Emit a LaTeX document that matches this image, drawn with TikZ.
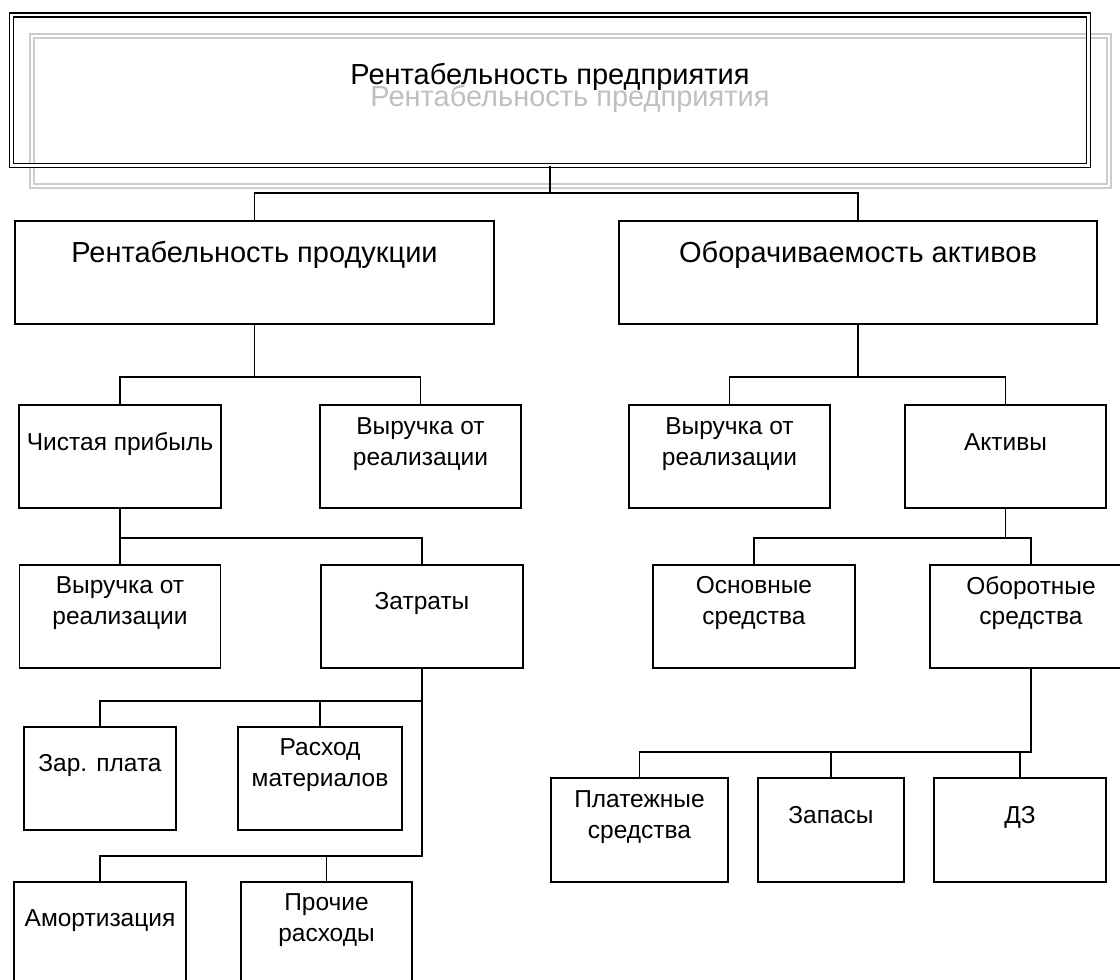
\documentclass[tikz,border=0pt]{standalone}
\usepackage{fontspec}
\setmainfont{Liberation Sans}

\begin{document}
\begin{tikzpicture}[x=1pt,y=-1pt,
    box/.style={draw=black,line width=1.5pt,inner sep=0pt,minimum height=103pt},
    big/.style={font=\fontsize{29}{35}\selectfont,text height=21pt,text depth=6pt},
    small/.style={font=\fontsize{24.5}{30.5}\selectfont,align=center},
    one/.style={small,text height=17.6pt,text depth=5.2pt},
    link/.style={draw=black,line width=1.5pt}]
                \clip (0,0) rectangle (1120,980);

                \node (sh) at (570.5,111) [draw=black!20,double,double distance=2.6pt,line width=1.4pt,inner sep=0pt,minimum width=1077pt,minimum height=150pt] {};
                \node (sht) at (570,99) [big,text=black!25] {Рентабельность предприятия};
                \node (top) at (550,90.25) [draw=black,double,double distance=2.6pt,line width=1.4pt,inner sep=0pt,minimum width=1077pt,minimum height=150.5pt] {};
                \node (topt) at (550,77) [big] {Рентабельность предприятия};

                \node (rp) at (254.5,272.5) [box,minimum width=479pt] {};
                \node (rpt) at (254.5,255) [big] {Рентабельность продукции};
                \node (oa) at (858,272.5) [box,minimum width=478pt] {};
                \node (oat) at (858,255) [big] {Оборачиваемость активов};

                \node (cp) at (120,456.5) [box,minimum width=202pt] {};
                \node (cpt) at (120,444) [one] {Чистая прибыль};
                \node (vr1) at (420.5,456.5) [box,minimum width=201pt] {};
                \node (vr1t) at (420.5,444) [small] {Выручка от\\реализации};
                \node (vr2) at (729.5,456.5) [box,minimum width=201pt] {};
                \node (vr2t) at (729.5,444) [small] {Выручка от\\реализации};
                \node (akt) at (1005.5,456.5) [box,minimum width=201pt] {};
                \node (aktt) at (1005.5,444) [one] {Активы};

                \node (vr3) at (120,616.5) [box,minimum width=201pt] {};
                \node (vr3t) at (120,603) [small] {Выручка от\\реализации};
                \node (zat) at (422,616.5) [box,minimum width=202pt] {};
                \node (zatt) at (422,603) [one] {Затраты};
                \node (os) at (754,616.5) [box,minimum width=202pt] {};
                \node (ost) at (754,603) [small] {Основные\\средства};
                \node (obs) at (1031,616.5) [box,minimum width=202pt] {};
                \node (obst) at (1031,603) [small] {Оборотные\\средства};

                \node (zp) at (100,778.5) [box,minimum width=152pt] {};
                \node (zpt) at (100,765) [one] {Зар. плата};
                \node (rm) at (320,778.5) [box,minimum width=164pt] {};
                \node (rmt) at (320,765) [small] {Расход\\материалов};
                \node (am) at (100,933.5) [box,minimum width=172pt] {};
                \node (amt) at (100,920) [one] {Амортизация};
                \node (pr) at (326.5,933.5) [box,minimum width=171pt] {};
                \node (prt) at (326.5,920) [small] {Прочие\\расходы};

                \node (pl) at (639.5,830) [box,minimum width=177pt,minimum height=104pt] {};
                \node (plt) at (639.5,817) [small] {Платежные\\средства};
                \node (zap) at (831,830) [box,minimum width=146pt,minimum height=104pt] {};
                \node (zapt) at (831,817) [one] {Запасы};
                \node (dz) at (1020,830) [box,minimum width=172pt,minimum height=104pt] {};
                \node (dzt) at (1020,817) [one] {ДЗ};

                \coordinate (b0) at (0,193);
                \coordinate (b1) at (0,377);
                \coordinate (b2) at (0,538);
                \coordinate (b3) at (0,701);
                \coordinate (b4) at (0,856);
                \coordinate (b5) at (0,752);

                \draw[link] (top.south) -- (top.south |- b0) -| (rp.north);
                \draw[link] (top.south |- b0) -| (oa.north);
                \draw[link] (rp.south) -- (rp.south |- b1) -| (cp.north);
                \draw[link] (rp.south |- b1) -| (vr1.north);
                \draw[link] (oa.south) -- (oa.south |- b1) -| (vr2.north);
                \draw[link] (oa.south |- b1) -| (akt.north);
                \draw[link] (cp.south) -- (vr3.north);
                \draw[link] (cp.south |- b2) -| (zat.north);
                \draw[link] (akt.south) -- (akt.south |- b2) -| (os.north);
                \draw[link] (akt.south |- b2) -| (obs.north);
                \draw[link] (zat.south) -- (zat.south |- b4) -| (am.north);
                \draw[link] (zat.south |- b3) -| (zp.north);
                \draw[link] (zat.south |- b3) -| (rm.north);
                \draw[link] (zat.south |- b4) -| (pr.north);
                \draw[link] (obs.south) -- (obs.south |- b5) -| (pl.north);
                \draw[link] (obs.south |- b5) -| (zap.north);
                \draw[link] (obs.south |- b5) -| (dz.north);
            \end{tikzpicture}
\end{document}
